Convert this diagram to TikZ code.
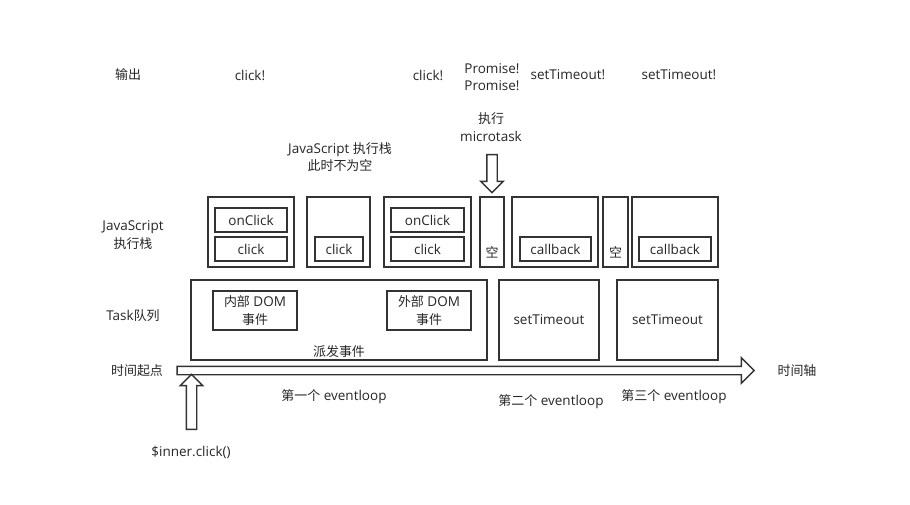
\documentclass[tikz,border=0pt]{standalone}
\usepackage{fontspec}
\setmainfont{Open Sans}
\newfontfamily\cjk{Noto Sans CJK SC}[Scale=0.96]
\usetikzlibrary{positioning,shapes.arrows}

\begin{document}
\begin{tikzpicture}[x=1pt,y=-1pt,
    every node/.style={font=\fontsize{13.5}{17.5}\selectfont,text=black!85,align=center},
    frame/.style={draw=black!80,line width=1.5pt,inner sep=0pt},
    fat/.style={single arrow,draw=black!80,line width=1.4pt,inner xsep=0pt}]
    \useasboundingbox (0,0) rectangle (910,504);
    % output row
    \node (out) at (128,75) {\cjk 输出};
    \node (o1) at (250,75) {click!};
    \node (o2) at (428,75) {click!};
    \node (o3) at (492,77) {Promise!\\Promise!};
    \node (o4) at (568,75) {setTimeout!};
    \node (o5) at (679,75) {setTimeout!};
    \node (micro) at (491,127) {{\cjk 执行}\\microtask};
    \node (busy) at (340,157) {JavaScript {\cjk 执行栈}\\{\cjk 此时不为空}};
    % JavaScript stack
    \node (jslabel) at (133,235) {JavaScript\\{\cjk 执行栈}};
    \node[frame,minimum width=86pt,minimum height=70pt] (js1) at (251,232) {};
    \node[frame,minimum width=72pt,minimum height=24pt] (js1a) at (251,220) {onClick};
    \node[frame,minimum width=72pt,minimum height=24pt] (js1b) at (251,249) {click};
    \node[frame,minimum width=63pt,minimum height=70pt] (js2) at (338.5,232) {};
    \node[frame,minimum width=48pt,minimum height=24pt] (js2b) at (339,249) {click};
    \node[frame,minimum width=87pt,minimum height=70pt] (js3) at (427.5,232) {};
    \node[frame,minimum width=73pt,minimum height=24pt] (js3a) at (427.5,220) {onClick};
    \node[frame,minimum width=73pt,minimum height=24pt] (js3b) at (427.5,249) {click};
    \node[frame,minimum width=24pt,minimum height=70pt] (nil1) at (492,232) {};
    \node[above=6pt of nil1.south] (nil1t) {\cjk 空};
    \node[frame,minimum width=86pt,minimum height=70pt] (cb1) at (555,232) {};
    \node[frame,minimum width=71pt,minimum height=24pt] (cb1b) at (555.5,249) {callback};
    \node[frame,minimum width=25pt,minimum height=70pt] (nil2) at (615.5,232) {};
    \node[above=6pt of nil2.south] (nil2t) {\cjk 空};
    \node[frame,minimum width=86pt,minimum height=70pt] (cb2) at (675,232) {};
    \node[frame,minimum width=72pt,minimum height=24pt] (cb2b) at (675,249) {callback};
    % task queue
    \node (tasklabel) at (133,316) {Task{\cjk 队列}};
    \node[frame,minimum width=296pt,minimum height=80pt] (dispatch) at (339,320) {};
    \node[frame,minimum width=84pt,minimum height=39pt] (inner) at (255,310.5) {{\cjk 内部} DOM\\{\cjk 事件}};
    \node[frame,minimum width=84pt,minimum height=39pt] (outer) at (429,310.5) {{\cjk 外部} DOM\\{\cjk 事件}};
    \node (dispatcht) at (339,352) {\cjk 派发事件};
    \node[frame,minimum width=100pt,minimum height=80pt] (st1) at (549,320) {setTimeout};
    \node[frame,minimum width=101pt,minimum height=80pt] (st2) at (667.5,320) {setTimeout};
    % time line
    \node (start) at (137,371) {\cjk 时间起点};
    \node[fat,inner ysep=3.5pt,single arrow head extend=8.5pt,minimum height=577pt] (axis) at (463.5,370.5) {};
    \node (axist) at (797,371) {\cjk 时间轴};
    \node (loop1) at (334,397) {{\cjk 第一个} eventloop};
    \node (loop2) at (551,402) {{\cjk 第二个} eventloop};
    \node (loop3) at (674,397) {{\cjk 第三个} eventloop};
    \node[fat,rotate=90,inner ysep=4.5pt,single arrow head extend=6pt,minimum height=55pt] (click) at (191.5,404.5) {};
    \node (clickt) at (191,452) {\$inner.click()};
    \node[fat,rotate=-90,inner ysep=4.5pt,single arrow head extend=6pt,minimum height=38pt] (down) at (492,171) {};
\end{tikzpicture}
\end{document}
